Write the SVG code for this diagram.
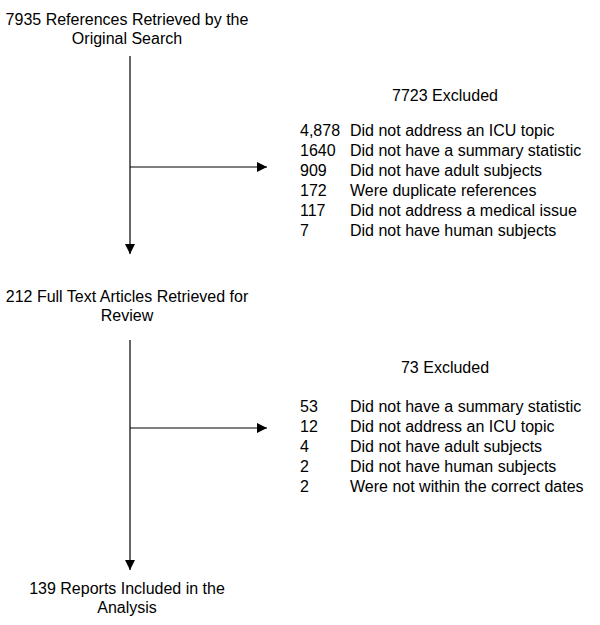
<svg xmlns="http://www.w3.org/2000/svg" width="600" height="625" viewBox="0 0 600 625">
<style>
text{font-family:"Liberation Sans",Arial,sans-serif;font-size:16px;fill:#000}
.c{text-anchor:middle}
line{stroke:#000;stroke-width:1.2}
</style>
<defs><marker id="a" viewBox="0 0 10 10" refX="10" refY="5" markerWidth="10" markerHeight="10" markerUnits="userSpaceOnUse" orient="auto"><path d="M0,0L10,5L0,10z" fill="#000"/></marker></defs>
<rect width="600" height="625" fill="#fff"/>
<g id="connectors">
<line x1="130" y1="56" x2="130" y2="254" marker-end="url(#a)"/>
<line x1="130" y1="167" x2="267" y2="167" marker-end="url(#a)"/>
<line x1="130" y1="340" x2="130" y2="570" marker-end="url(#a)"/>
<line x1="130" y1="428" x2="267" y2="428" marker-end="url(#a)"/>
</g>
<g id="n1"><text class="c" x="127" y="25">7935 References Retrieved by the</text><text class="c" x="127" y="44">Original Search</text></g>
<g id="n2"><text class="c" x="445" y="101">7723 Excluded</text>
<text x="300" y="136">4,878</text><text x="350" y="136">Did not address an ICU topic</text>
<text x="300" y="156">1640</text><text x="350" y="156">Did not have a summary statistic</text>
<text x="300" y="176">909</text><text x="350" y="176">Did not have adult subjects</text>
<text x="300" y="196">172</text><text x="350" y="196">Were duplicate references</text>
<text x="300" y="216">117</text><text x="350" y="216">Did not address a medical issue</text>
<text x="300" y="236">7</text><text x="350" y="236">Did not have human subjects</text></g>
<g id="n3"><text class="c" x="127" y="302">212 Full Text Articles Retrieved for</text><text class="c" x="127" y="321">Review</text></g>
<g id="n4"><text class="c" x="445" y="373">73 Excluded</text>
<text x="300" y="412">53</text><text x="350" y="412">Did not have a summary statistic</text>
<text x="300" y="432">12</text><text x="350" y="432">Did not address an ICU topic</text>
<text x="300" y="452">4</text><text x="350" y="452">Did not have adult subjects</text>
<text x="300" y="472">2</text><text x="350" y="472">Did not have human subjects</text>
<text x="300" y="492">2</text><text x="350" y="492">Were not within the correct dates</text></g>
<g id="n5"><text class="c" x="127" y="594">139 Reports Included in the</text><text class="c" x="127" y="613">Analysis</text></g>
</svg>
